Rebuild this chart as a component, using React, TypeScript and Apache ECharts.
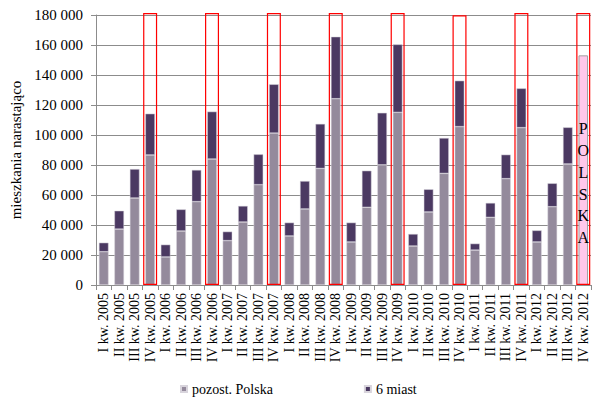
import React, { useEffect, useRef } from "react";
import * as echarts from "echarts";

const categories = [
  "I kw. 2005", "II kw. 2005", "III kw. 2005", "IV kw. 2005",
  "I kw. 2006", "II kw. 2006", "III kw. 2006", "IV kw. 2006",
  "I kw. 2007", "II kw. 2007", "III kw. 2007", "IV kw. 2007",
  "I kw. 2008", "II kw. 2008", "III kw. 2008", "IV kw. 2008",
  "I kw. 2009", "II kw. 2009", "III kw. 2009", "IV kw. 2009",
  "I kw. 2010", "II kw. 2010", "III kw. 2010", "IV kw. 2010",
  "I kw. 2011", "II kw. 2011", "III kw. 2011", "IV kw. 2011",
  "I kw. 2012", "II kw. 2012", "III kw. 2012", "IV kw. 2012",
];

// pozost. Polska (last item = whole Polska, drawn pink)
const pozostPolska = [
  22200, 37300, 58000, 86700,
  18700, 36000, 55600, 84000,
  29600, 42000, 66900, 101300,
  32700, 50700, 77700, 124200,
  28700, 51800, 80100, 115100,
  26000, 48700, 74400, 105600,
  23300, 45100, 70900, 104900,
  28700, 52200, 80700, 153100,
];

const szescMiast = [
  6000, 12200, 19300, 27500,
  8200, 14400, 21100, 31600,
  6000, 10700, 20200, 32500,
  8900, 18600, 29700, 41300,
  12900, 24400, 34700, 45300,
  8000, 15100, 23600, 30600,
  4300, 9600, 16000, 26200,
  7700, 15600, 24400, null,
];

// red frames around IV quarters (height of frame)
const frames = [
  null, null, null, 181300,
  null, null, null, 181300,
  null, null, null, 181300,
  null, null, null, 181300,
  null, null, null, 181300,
  null, null, null, 179800,
  null, null, null, 181300,
  null, null, null, 181300,
];

const yTicks = { min: 0, max: 180000, interval: 20000 };

const FONT = "Liberation Serif";

export default function App() {
  const ref = useRef<HTMLDivElement>(null);

  useEffect(() => {
    if (!ref.current) return;
    const chart = echarts.init(ref.current, undefined, { renderer: "svg" });
    const last = categories.length - 1;
    const option = {
      animation: false,
      textStyle: { fontFamily: FONT },
      grid: { left: 96, right: 4, top: 15, bottom: 116, containLabel: false },
      legend: {
        top: 377,
        left: 175,
        icon: "rect",
        itemWidth: 6,
        itemHeight: 6,
        itemGap: 91,
        textStyle: { fontFamily: FONT, fontSize: 14, color: "#000" },
        data: ["pozost. Polska", "6 miast"],
      },
      xAxis: [
        {
          type: "category",
          data: categories,
          axisLine: { lineStyle: { color: "#8c8c8c" } },
          axisTick: { show: true, length: 5, lineStyle: { color: "#8c8c8c" } },
          axisLabel: {
            rotate: 90,
            interval: 0,
            fontFamily: FONT,
            fontSize: 14,
            color: "#000",
            margin: 8,
          },
        },
        {
          type: "category",
          data: categories,
          show: false,
        },
      ],
      yAxis: {
        type: "value",
        min: yTicks.min,
        max: yTicks.max,
        interval: yTicks.interval,
        name: "mieszkania narastająco",
        nameLocation: "middle",
        nameGap: 71,
        nameTextStyle: { fontFamily: FONT, fontSize: 15, color: "#000" },
        axisLine: { show: true, lineStyle: { color: "#8c8c8c" } },
        axisTick: { show: true, length: 5, lineStyle: { color: "#8c8c8c" } },
        splitLine: { lineStyle: { color: "#8c8c8c", width: 1 } },
        axisLabel: {
          fontFamily: FONT,
          fontSize: 15,
          color: "#000",
          margin: 13,
          formatter: (v: number) =>
            String(v).replace(/\B(?=(\d{3})+(?!\d))/g, " "),
        },
      },
      series: [
        {
          name: "pozost. Polska",
          type: "bar",
          stack: "s",
          barCategoryGap: "38%",
          itemStyle: { color: "#948a9c", borderColor: "#d8d4dc", borderWidth: 0.5 },
          data: pozostPolska.map((v, i) =>
            i === last
              ? {
                  value: v,
                  itemStyle: { color: "#ffc8eb", borderColor: "#a0a0a0", borderWidth: 1 },
                  label: {
                    show: true,
                    position: "inside",
                    offset: [0, 13],
                    formatter: "P\nO\nL\nS\nK\nA",
                    fontFamily: FONT,
                    fontSize: 16,
                    lineHeight: 21.7,
                    color: "#000",
                  },
                }
              : v
          ),
        },
        {
          name: "6 miast",
          type: "bar",
          stack: "s",
          barCategoryGap: "38%",
          itemStyle: { color: "#4b3962", borderColor: "#d8d4dc", borderWidth: 0.5 },
          data: szescMiast,
        },
        {
          name: "frames",
          type: "bar",
          xAxisIndex: 1,
          barWidth: 14,
          clip: false,
          silent: true,
          z: 5,
          itemStyle: { color: "rgba(0,0,0,0)", borderColor: "#ff0000", borderWidth: 1.2 },
          data: frames,
        },
      ],
    };
    chart.setOption(option as any);
    return () => chart.dispose();
  }, []);

  return (
    <div
      ref={ref}
      style={{ position: "absolute", left: 0, top: 0, width: 595, height: 401, background: "#fff" }}
    />
  );
}
